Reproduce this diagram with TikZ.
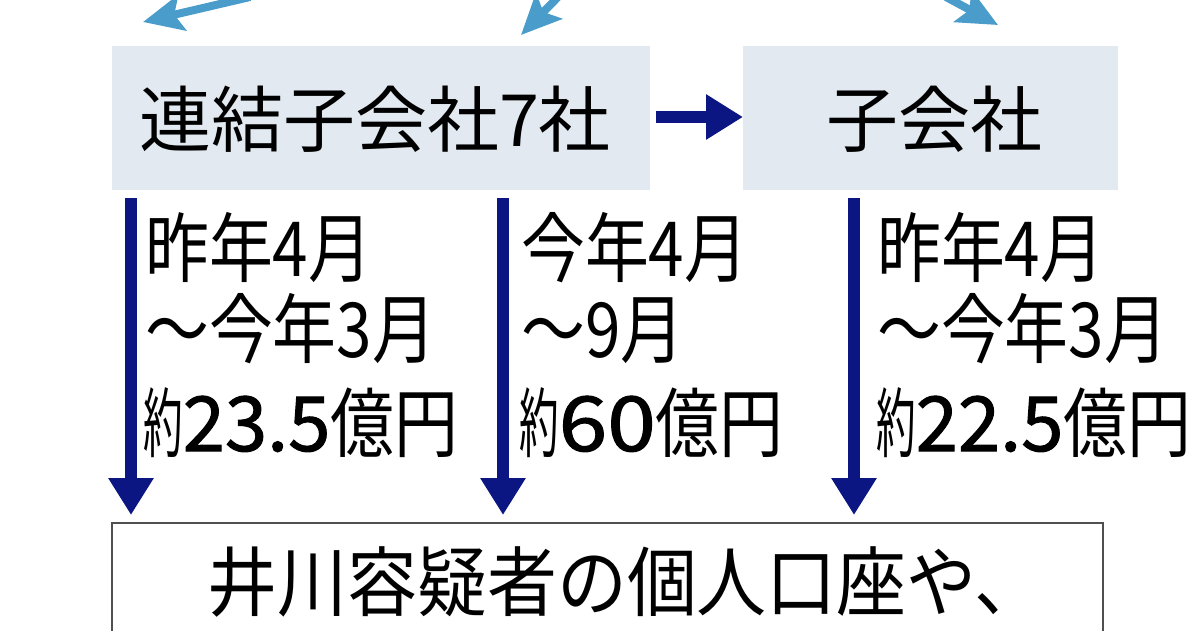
\documentclass[tikz,border=0pt]{standalone}
\usepackage{fontspec}
\usepackage{graphicx}
\setmainfont{Noto Sans CJK JP}
\newfontfamily\jpc[FakeStretch=0.84]{Noto Sans CJK JP}
\newfontfamily\jpw[FakeStretch=0.92]{Noto Sans CJK JP}
\newfontfamily\jpdig[FakeBold=1.3]{Noto Sans CJK JP}
\newcommand{\yaku}{\scalebox{0.62}[1]{約}}
\newcommand{\num}[1]{{\jpdig #1}}
\usetikzlibrary{arrows.meta}
\definecolor{boxfill}{HTML}{E2E9F1}
\definecolor{navy}{HTML}{0C1683}
\definecolor{skyarrow}{HTML}{4A9DCB}
\definecolor{frame}{HTML}{505050}
\tikzset{
  company/.style={fill=boxfill, draw=none},
  boxtext/.style={font=\fontsize{72}{80}\selectfont, inner sep=0pt, anchor=base},
  coltext/.style={font=\jpc\fontsize{76}{84}\selectfont, inner sep=0pt, anchor=base west},
  flow/.style={draw=navy, line width=12pt, -{Triangle[length=37pt,width=43pt]}},
  share/.style={draw=skyarrow, line width=8pt, -{Stealth[length=40pt,width=36pt,inset=8pt]}},
}
\begin{document}
\begin{tikzpicture}[x=1pt,y=-1pt]
\useasboundingbox (0,0) rectangle (1200,630);
% company boxes
\path[company] (112,46) rectangle (650,190);
\path[company] (743,46) rectangle (1118,190);
\node[boxtext] (renketsu) at (375,146) {連結子会社7社};
\node[boxtext] (kogaisha) at (934,146) {子会社};
\coordinate (b1e) at (656,117);
\coordinate (b2w) at (743,117);
\draw[flow] (b1e) -- (b2w);
% top partial arrows
\coordinate (t1s) at (250,-3);
\coordinate (t1e) at (143,22);
\coordinate (t2s) at (558,-3);
\coordinate (t2e) at (521,35);
\coordinate (t3s) at (946,-3);
\coordinate (t3e) at (998,25);
\draw[share] (t1s) -- (t1e);
\draw[share] (t2s) -- (t2e);
\draw[share] (t3s) -- (t3e);
% bottom box
\draw[frame, line width=2pt, fill=white] (112,523) rectangle (1103,640);
\node[font=\jpw\fontsize{76}{84}\selectfont, inner sep=0pt, anchor=base] (dest) at (626,610) {井川容疑者の個人口座や、};
% vertical flows
\coordinate (a1s) at (131,198);
\coordinate (a1e) at (131,515);
\coordinate (a2s) at (503,198);
\coordinate (a2e) at (503,515);
\coordinate (a3s) at (854,198);
\coordinate (a3e) at (854,515);
\draw[flow] (a1s) -- (a1e);
\draw[flow] (a2s) -- (a2e);
\draw[flow] (a3s) -- (a3e);
% column labels
\node[coltext] (l1) at (145,276) {昨年4月};
\node[coltext] (l2) at (145,357) {～今年3月};
\node[coltext] (l3) at (143,451) {\yaku\num{23.5}億円};
\node[coltext] (m1) at (521,276) {今年4月};
\node[coltext] (m2) at (521,357) {～9月};
\node[coltext] (m3) at (519,451) {\yaku\scalebox{1.15}[1]{\num{60}}億円};
\node[coltext] (r1) at (877,276) {昨年4月};
\node[coltext] (r2) at (877,357) {～今年3月};
\node[coltext] (r3) at (876,451) {\yaku\num{22.5}億円};
\end{tikzpicture}
\end{document}
